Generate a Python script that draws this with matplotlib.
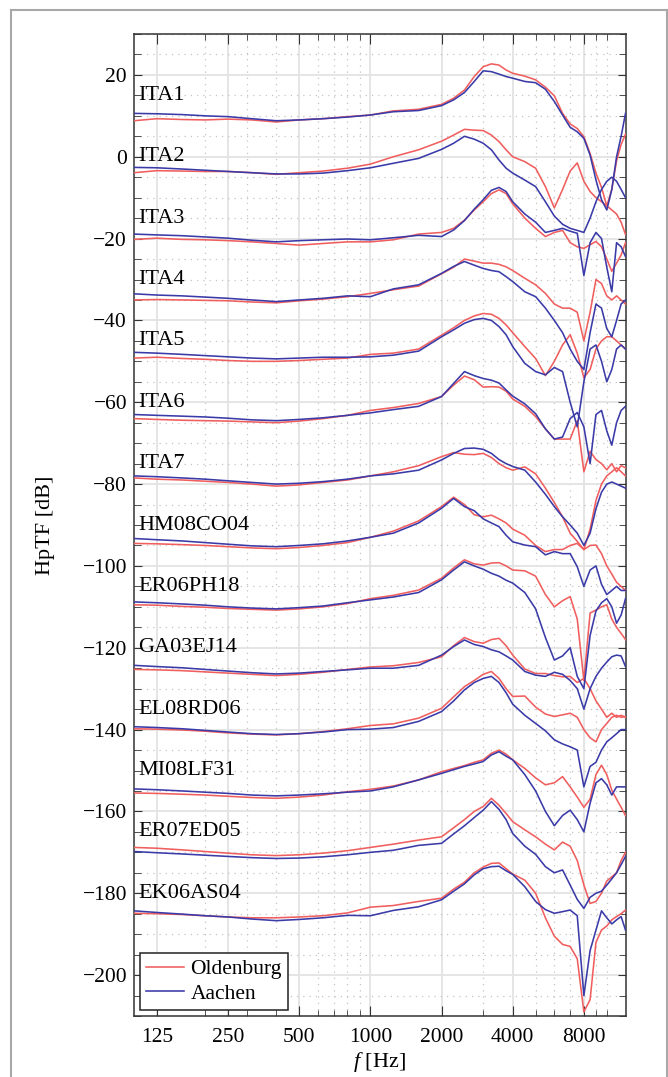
import numpy as np
import matplotlib
matplotlib.use('Agg')
import matplotlib.pyplot as plt
from matplotlib.lines import Line2D
from matplotlib.ticker import FixedLocator, NullFormatter

plt.rcParams['font.family'] = ['Liberation Serif', 'DejaVu Serif']
plt.rcParams['mathtext.fontset'] = 'custom'
plt.rcParams['mathtext.it'] = 'Liberation Serif:italic'
plt.rcParams['mathtext.rm'] = 'Liberation Serif'

# Frequenzraster (Hz)
freqs = [100, 125, 160, 200, 250, 315, 400, 500, 630, 800, 1000, 1250, 1600, 2000, 2250, 2500,
         2750, 3000, 3250, 3500, 3750, 4000, 4500, 5000, 5500, 6000, 6500, 7000, 7500, 8000,
         8500, 9000, 9500, 10000, 10500, 11000, 11500, 12000]

subjects = ['ITA1', 'ITA2', 'ITA3', 'ITA4', 'ITA5', 'ITA6', 'ITA7', 'HM08CO04', 'ER06PH18',
            'GA03EJ14', 'EL08RD06', 'MI08LF31', 'ER07ED05', 'EK06AS04']
label_level = [15, 0, -15, -30, -45, -60, -75, -90, -105, -120, -135, -150, -165, -180]

# Oldenburg (rot) / Aachen (blau), dB mit Versatz
ita1_old = [8.8, 9.3, 9.1, 9.0, 9.2, 9.0, 8.5, 9.0, 9.3, 9.8, 10.2, 11.2, 11.6, 12.8, 14.3, 16.3, 19.6, 22.0, 22.7, 22.4,
            21.2, 20.4, 19.7, 18.8, 17.0, 14.9, 10.6, 8.0, 6.9, 4.9, 0.8, -4.0, -7.5, -12.0, -8.0, -1.0, 3.0, 5.5]
ita1_aac = [10.6, 10.5, 10.3, 10.0, 9.8, 9.3, 8.8, 9.0, 9.3, 9.7, 10.2, 11.0, 11.3, 12.5, 13.9, 15.7, 18.4, 21.0, 20.8, 20.2,
            19.6, 19.2, 18.4, 18.1, 16.5, 13.5, 10.2, 7.2, 6.1, 4.5, 0.4, -5.7, -10.5, -13.0, -8.0, 0.0, 5.0, 10.6]
ita2_old = [-3.9, -3.4, -3.5, -3.6, -3.6, -3.9, -4.3, -3.9, -3.5, -2.8, -1.8, 0.0, 1.7, 3.8, 5.3, 6.7, 6.5, 6.4, 5.3, 3.7,
            1.7, 0.0, -1.2, -2.8, -7.3, -12.5, -8.0, -3.5, -1.5, -6.0, -8.5, -10.0, -11.0, -12.0, -13.0, -14.0, -16.0, -19.0]
ita2_aac = [-2.6, -2.7, -3.0, -3.3, -3.6, -3.9, -4.2, -4.2, -4.0, -3.4, -2.7, -1.6, -0.4, 1.8, 3.3, 5.0, 4.3, 3.3, 1.7, -0.8,
            -2.8, -4.0, -5.7, -7.3, -11.0, -14.5, -16.5, -17.5, -18.0, -18.5, -15.0, -11.0, -8.0, -6.0, -5.0, -6.0, -8.0, -10.0]
ita3_old = [-20.2, -19.9, -20.2, -20.3, -20.5, -20.8, -21.2, -21.6, -21.2, -20.8, -20.8, -20.3, -18.9, -18.5, -17.5, -15.5,
            -13.0, -11.0, -9.0, -8.1, -9.0, -11.5, -15.0, -17.5, -19.5, -18.5, -18.0, -21.0, -22.0, -22.4, -21.5, -20.7,
            -22.0, -25.0, -28.0, -26.0, -24.0, -21.0]
ita3_aac = [-18.9, -19.1, -19.3, -19.6, -19.9, -20.4, -20.8, -20.5, -20.3, -20.1, -20.3, -19.8, -19.2, -19.5, -17.9, -15.6,
            -12.8, -10.5, -8.2, -7.5, -8.5, -11.0, -14.0, -16.0, -18.5, -18.0, -17.5, -18.2, -18.7, -29.0, -21.0, -18.5,
            -20.0, -27.0, -33.0, -21.0, -22.0, -24.4]
ita4_old = [-35.0, -34.9, -35.0, -35.1, -35.2, -35.5, -35.7, -35.2, -34.8, -34.2, -33.4, -32.5, -31.6, -28.6, -27.0, -25.0,
            -25.5, -26.0, -26.0, -26.3, -26.9, -27.8, -29.7, -31.3, -33.4, -36.0, -37.0, -37.0, -38.0, -45.0, -38.0, -30.0,
            -31.0, -34.0, -35.0, -34.0, -35.0, -36.0]
ita4_aac = [-33.5, -33.8, -34.0, -34.3, -34.6, -35.0, -35.4, -35.0, -34.6, -34.0, -34.2, -32.3, -31.3, -28.5, -26.8, -25.6,
            -26.5, -27.3, -27.8, -28.1, -29.3, -30.5, -33.0, -34.2, -37.0, -40.0, -43.0, -47.0, -50.0, -52.0, -43.0, -36.0,
            -37.0, -42.0, -44.0, -40.0, -36.0, -35.0]
ita5_old = [-49.2, -49.0, -49.3, -49.5, -49.8, -50.0, -50.0, -49.8, -49.5, -49.2, -48.3, -48.0, -47.0, -43.6, -41.8, -40.0,
            -38.9, -38.3, -38.5, -39.5, -41.1, -43.0, -46.4, -49.3, -53.5, -50.0, -46.0, -43.5, -48.0, -54.0, -52.0, -47.0,
            -45.0, -44.0, -44.0, -45.0, -46.0, -47.0]
ita5_aac = [-47.8, -48.0, -48.3, -48.6, -48.9, -49.2, -49.4, -49.2, -49.0, -49.0, -48.9, -48.5, -47.5, -44.0, -42.3, -40.7,
            -39.8, -39.5, -40.0, -41.5, -43.5, -46.4, -50.5, -52.5, -53.3, -51.5, -52.5, -60.0, -66.0, -55.0, -47.0, -46.0,
            -50.0, -55.0, -52.0, -47.0, -46.0, -47.0]
ita6_old = [-64.0, -64.2, -64.4, -64.5, -64.6, -64.8, -65.0, -64.6, -64.0, -63.2, -62.0, -61.3, -60.3, -58.6, -55.8, -53.6,
            -54.5, -56.3, -56.2, -56.3, -57.3, -59.2, -61.0, -63.5, -66.5, -69.0, -69.0, -69.0, -64.5, -77.0, -72.0, -74.0,
            -75.0, -76.5, -75.0, -77.0, -75.5, -76.0]
ita6_aac = [-63.0, -63.2, -63.4, -63.6, -63.9, -64.3, -64.5, -64.2, -63.8, -63.2, -62.6, -61.8, -61.0, -58.6, -55.4, -52.5,
            -53.5, -54.2, -54.6, -55.3, -57.0, -58.5, -60.4, -62.8, -66.5, -69.0, -68.5, -64.0, -62.5, -66.0, -75.0, -63.0,
            -62.0, -67.0, -70.5, -65.0, -62.0, -61.0]
ita7_old = [-78.5, -78.8, -79.0, -79.3, -79.6, -80.0, -80.5, -80.2, -79.6, -79.0, -78.0, -77.0, -75.5, -73.3, -72.3, -72.7,
            -72.8, -72.5, -73.5, -75.0, -76.0, -76.6, -75.8, -77.5, -81.0, -84.5, -88.0, -92.0, -94.0, -96.0, -91.0, -84.0,
            -80.0, -78.0, -77.0, -76.0, -77.0, -78.0]
ita7_aac = [-78.0, -78.2, -78.5, -78.8, -79.2, -79.6, -80.0, -79.8, -79.4, -78.8, -78.0, -77.5, -76.6, -74.1, -72.5, -71.3,
            -71.2, -71.5, -72.5, -74.0, -75.0, -75.7, -76.6, -79.5, -82.5, -85.5, -88.0, -90.0, -92.0, -95.0, -92.0, -86.0,
            -82.0, -80.0, -79.5, -80.0, -80.5, -81.0]
hm08_old = [-94.5, -94.6, -94.8, -95.0, -95.3, -95.6, -95.8, -95.5, -95.0, -94.3, -93.0, -91.5, -89.0, -85.5, -83.2, -85.0,
            -87.5, -88.0, -87.6, -88.5, -89.5, -91.0, -92.5, -95.0, -96.5, -96.0, -96.0, -95.0, -94.5, -96.0, -95.0, -94.9,
            -97.0, -100.0, -102.0, -104.0, -105.0, -106.0]
hm08_aac = [-93.3, -93.6, -93.9, -94.3, -94.7, -95.1, -95.3, -95.0, -94.6, -93.9, -93.0, -92.0, -89.5, -85.9, -83.5, -85.5,
            -86.5, -88.5, -89.5, -90.4, -92.5, -94.1, -94.9, -95.3, -97.3, -96.5, -97.0, -97.0, -100.2, -105.0, -101.0,
            -100.0, -104.5, -107.0, -106.0, -105.0, -106.0, -106.0]
er06_old = [-109.5, -109.6, -109.9, -110.1, -110.4, -110.6, -110.8, -110.5, -110.0, -109.2, -108.0, -107.2, -105.9, -103.0,
            -100.5, -98.5, -99.5, -99.8, -99.3, -99.2, -100.0, -101.0, -101.2, -102.5, -107.0, -110.0, -108.5, -107.5,
            -113.0, -128.0, -111.5, -110.8, -110.0, -109.5, -113.0, -115.0, -116.5, -118.0]
er06_aac = [-108.8, -109.0, -109.3, -109.6, -110.0, -110.3, -110.5, -110.2, -109.8, -109.0, -108.3, -107.6, -106.5, -103.4,
            -101.0, -99.0, -100.0, -100.8, -101.8, -102.5, -103.5, -104.2, -106.5, -110.5, -117.5, -123.0, -122.0, -120.0,
            -127.0, -130.0, -117.0, -111.0, -109.0, -108.0, -110.0, -114.0, -112.0, -108.0]
ga03_old = [-125.3, -125.4, -125.6, -125.9, -126.2, -126.5, -126.8, -126.5, -126.0, -125.3, -124.7, -124.4, -123.6, -122.2,
            -119.5, -117.5, -118.5, -118.9, -118.0, -117.7, -119.5, -121.8, -125.2, -126.3, -126.3, -126.8, -127.1, -127.0,
            -128.5, -127.5, -130.0, -133.0, -135.0, -137.0, -136.0, -137.0, -136.5, -137.0]
ga03_aac = [-124.3, -124.6, -124.9, -125.3, -125.7, -126.1, -126.4, -126.2, -125.8, -125.4, -125.0, -125.0, -124.3, -121.8,
            -119.7, -118.1, -119.2, -119.7, -120.5, -121.0, -122.0, -123.0, -125.8, -126.7, -127.0, -126.0, -126.5, -128.0,
            -130.0, -135.0, -130.0, -127.0, -125.0, -123.5, -122.2, -121.8, -122.0, -124.6]
el08_old = [-139.8, -139.9, -140.1, -140.4, -140.8, -141.1, -141.3, -141.0, -140.5, -139.8, -139.0, -138.6, -137.2, -134.8,
            -132.0, -129.5, -128.0, -126.5, -125.8, -127.5, -130.0, -131.9, -131.8, -134.5, -136.2, -136.8, -136.4, -136.0,
            -137.0, -140.0, -142.0, -143.0, -140.0, -138.5, -137.0, -136.5, -137.0, -136.8]
el08_aac = [-139.3, -139.5, -139.8, -140.2, -140.6, -141.0, -141.2, -141.0, -140.6, -140.0, -139.9, -139.5, -138.0, -135.6,
            -133.0, -130.3, -128.5, -127.5, -127.0, -128.5, -131.0, -133.8, -136.5, -138.5, -140.3, -142.5, -143.5, -144.2,
            -145.0, -154.0, -149.0, -148.0, -145.0, -143.0, -142.0, -141.0, -140.0, -140.0]
mi08_old = [-155.5, -155.6, -155.8, -156.0, -156.3, -156.6, -156.8, -156.5, -156.0, -155.2, -154.6, -153.8, -152.3, -150.3,
            -149.5, -148.8, -148.0, -147.4, -145.8, -145.0, -146.0, -147.4, -149.5, -151.8, -153.5, -153.0, -151.5, -154.0,
            -156.5, -159.0, -157.0, -151.0, -148.7, -151.0, -154.8, -157.0, -159.0, -161.0]
mi08_aac = [-154.5, -154.7, -155.0, -155.3, -155.6, -156.0, -156.2, -156.0, -155.7, -155.3, -155.0, -154.0, -152.3, -150.7,
            -149.8, -149.0, -148.4, -147.8, -146.2, -145.4, -146.5, -147.4, -151.0, -155.0, -160.0, -163.5, -161.0, -159.7,
            -162.0, -165.0, -158.0, -153.0, -152.0, -153.5, -156.0, -154.0, -154.0, -154.0]
er07_old = [-168.8, -169.0, -169.4, -169.8, -170.2, -170.6, -170.8, -170.6, -170.2, -169.6, -168.8, -168.0, -167.0, -166.2,
            -164.0, -162.0, -160.0, -158.8, -156.8, -158.5, -160.5, -162.5, -164.5, -166.2, -168.0, -169.4, -167.5, -168.5,
            -172.0, -178.0, -182.5, -182.0, -180.0, -177.0, -176.0, -175.0, -172.0, -170.0]
er07_aac = [-169.8, -170.1, -170.4, -170.7, -171.0, -171.3, -171.5, -171.4, -171.1, -170.6, -170.0, -169.5, -168.3, -167.8,
            -165.5, -163.5, -161.5, -159.7, -157.6, -159.5, -162.0, -165.4, -168.5, -170.5, -173.5, -175.0, -174.3, -178.0,
            -181.5, -183.7, -181.0, -180.0, -179.5, -178.0, -176.5, -175.0, -173.0, -171.0]
ek06_old = [-184.9, -185.0, -185.2, -185.5, -185.8, -186.0, -186.0, -185.8, -185.5, -184.8, -183.4, -183.0, -182.0, -181.2,
            -179.0, -177.3, -175.0, -173.6, -172.7, -172.6, -174.0, -175.3, -176.8, -180.0, -186.0, -190.5, -192.5, -193.0,
            -196.0, -209.0, -206.0, -192.0, -189.0, -188.0, -186.5, -185.7, -185.0, -184.1]
ek06_aac = [-184.3, -184.7, -185.1, -185.5, -185.8, -186.3, -186.7, -186.4, -186.0, -185.4, -185.5, -184.2, -183.3, -181.6,
            -179.5, -177.7, -175.5, -174.0, -173.5, -173.4, -174.5, -175.4, -178.4, -182.0, -184.0, -184.9, -184.5, -184.1,
            -185.5, -205.0, -194.0, -189.0, -184.3, -186.0, -187.5, -186.5, -185.7, -189.0]

oldenburg = [ita1_old, ita2_old, ita3_old, ita4_old, ita5_old, ita6_old, ita7_old, hm08_old, er06_old,
             ga03_old, el08_old, mi08_old, er07_old, ek06_old]
aachen = [ita1_aac, ita2_aac, ita3_aac, ita4_aac, ita5_aac, ita6_aac, ita7_aac, hm08_aac, er06_aac,
          ga03_aac, el08_aac, mi08_aac, er07_aac, ek06_aac]

xticks = [125, 250, 500, 1000, 2000, 4000, 8000]
xminor = [200, 300, 400, 600, 700, 800, 900, 3000, 5000, 6000, 7000, 9000, 10000]

RED = '#F05E5E'
BLUE = '#3A3AA8'

fig = plt.figure(figsize=(6.68, 10.77), dpi=100)
ax = fig.add_axes([134 / 668, 1 - 1016 / 1077, 491.5 / 668, 982 / 1077])

for i in range(len(subjects)):
    ax.plot(freqs, oldenburg[i], color=RED, lw=1.15, label='Oldenburg' if i == 0 else None, zorder=3)
    ax.plot(freqs, aachen[i], color=BLUE, lw=1.15, label='Aachen' if i == 0 else None, zorder=4)
    ax.text(104, label_level[i], subjects[i], fontsize=16, ha='left', va='center', zorder=5)

ax.set_xscale('log')
ax.set_xlim(100, 12000)
ax.set_ylim(-210, 30)
ax.xaxis.set_major_locator(FixedLocator(xticks))
ax.xaxis.set_minor_locator(FixedLocator(xminor))
ax.xaxis.set_minor_formatter(NullFormatter())
ax.set_xticklabels([str(t) for t in xticks])
ax.set_yticks(np.arange(-200, 21, 20))
ax.set_yticks(np.arange(-210, 31, 5), minor=True)

ax.grid(True, which='major', color='#e3e3e3', lw=1.3, zorder=0)
ax.grid(True, which='minor', color='#c4c4c4', lw=0.9, ls=(0, (1, 4)), zorder=0)
ax.set_axisbelow(True)

ax.tick_params(which='both', direction='in', top=True, right=True, labelsize=15.5, color='#333333')
ax.tick_params(axis='x', which='major', length=7, pad=9)
ax.tick_params(axis='x', which='minor', length=4)
ax.tick_params(axis='y', which='major', length=6, pad=5)
ax.tick_params(axis='y', which='minor', length=5)
for sp in ax.spines.values():
    sp.set_color('#333333')
    sp.set_linewidth(1.1)

ax.set_xlabel(r'$f$ [Hz]', fontsize=16, labelpad=2)
ax.set_ylabel('HpTF [dB]', fontsize=16, labelpad=20)

leg = ax.legend(loc='lower left', fontsize=15.5, frameon=True, fancybox=False, handlelength=1.75,
                borderpad=0.3, labelspacing=0.2, handletextpad=0.3, borderaxespad=0.27)
leg.get_frame().set_edgecolor('#222222')
leg.get_frame().set_linewidth(1.1)
leg.get_frame().set_alpha(1)

# grauer Rahmen um die Abbildung
fx0, fx1 = 11 / 668, 667 / 668
fy1 = 1 - 10 / 1077
for xs, ys in [((fx0, fx1), (fy1, fy1)), ((fx0, fx0), (0, fy1)), ((fx1, fx1), (0, fy1))]:
    fig.add_artist(Line2D(xs, ys, color='#a8a8a8', lw=1.5))

fig.savefig('out.png', dpi=100)
